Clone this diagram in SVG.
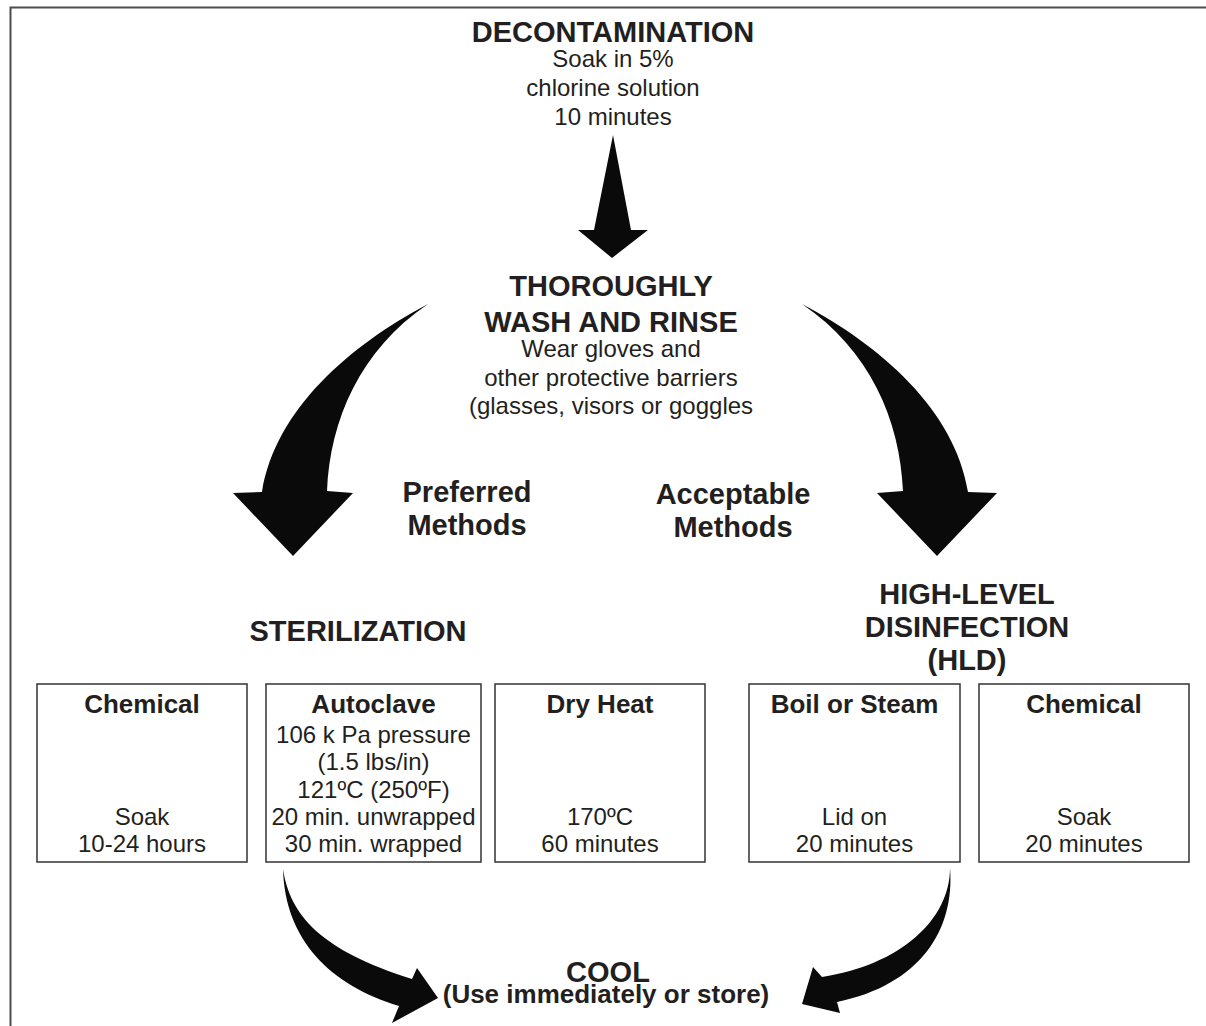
<svg xmlns="http://www.w3.org/2000/svg" width="1206" height="1026" viewBox="0 0 1206 1026">
<style>
text{font-family:"Liberation Sans",Arial,Helvetica,sans-serif;fill:#231f20;text-anchor:middle}
.h{font-weight:bold;font-size:29px}
.t{font-weight:bold;font-size:26px}
.b{font-size:24px}
.box{fill:#fff;stroke:#333;stroke-width:1.5}
.arr{fill:#0a0a0a}
</style>
<rect width="1206" height="1026" fill="#fff"/>
<path d="M10.5 1026 V7.5 H1206" fill="none" stroke="#4d4d4d" stroke-width="2"/>

<g id="decontamination">
<text class="h" x="613" y="42">DECONTAMINATION</text>
<text class="b" x="613" y="67">Soak in 5%</text>
<text class="b" x="613" y="96">chlorine solution</text>
<text class="b" x="613" y="125">10 minutes</text>
</g>

<g id="wash">
<text class="h" x="611" y="296">THOROUGHLY</text>
<text class="h" x="611" y="332">WASH AND RINSE</text>
<text class="b" x="611" y="357">Wear gloves and</text>
<text class="b" x="611" y="386">other protective barriers</text>
<text class="b" x="611" y="414">(glasses, visors or goggles</text>
</g>

<g id="preferred">
<text class="h" x="467" y="502">Preferred</text>
<text class="h" x="467" y="535">Methods</text>
</g>
<g id="acceptable">
<text class="h" x="733" y="504">Acceptable</text>
<text class="h" x="733" y="537">Methods</text>
</g>

<g id="sterilization">
<text class="h" x="358" y="641">STERILIZATION</text>
</g>
<g id="hld">
<text class="h" x="967" y="604">HIGH-LEVEL</text>
<text class="h" x="967" y="637">DISINFECTION</text>
<text class="h" x="967" y="670">(HLD)</text>
</g>

<g id="chemical-sterilization">
<rect class="box" x="37" y="684" width="210" height="178"/>
<text class="t" x="142" y="713">Chemical</text>
<text class="b" x="142" y="825">Soak</text>
<text class="b" x="142" y="852">10-24 hours</text>
</g>
<g id="autoclave">
<rect class="box" x="266" y="684" width="215" height="178"/>
<text class="t" x="373.5" y="713">Autoclave</text>
<text class="b" x="373.5" y="743">106 k Pa pressure</text>
<text class="b" x="373.5" y="770">(1.5 lbs/in)</text>
<text class="b" x="373.5" y="798">121ºC (250ºF)</text>
<text class="b" x="373.5" y="825">20 min. unwrapped</text>
<text class="b" x="373.5" y="852">30 min. wrapped</text>
</g>
<g id="dry-heat">
<rect class="box" x="495" y="684" width="210" height="178"/>
<text class="t" x="600" y="713">Dry Heat</text>
<text class="b" x="600" y="825">170ºC</text>
<text class="b" x="600" y="852">60 minutes</text>
</g>
<g id="boil-steam">
<rect class="box" x="749" y="684" width="211" height="178"/>
<text class="t" x="854.5" y="713">Boil or Steam</text>
<text class="b" x="854.5" y="825">Lid on</text>
<text class="b" x="854.5" y="852">20 minutes</text>
</g>
<g id="chemical-hld">
<rect class="box" x="979" y="684" width="210" height="178"/>
<text class="t" x="1084" y="713">Chemical</text>
<text class="b" x="1084" y="825">Soak</text>
<text class="b" x="1084" y="852">20 minutes</text>
</g>

<g id="cool">
<text class="h" x="608" y="982">COOL</text>
<text class="t" x="606" y="1003">(Use immediately or store)</text>
</g>

<g id="connectors">
<path class="arr" d="M613 135 L631 230 L648 230 L612 258 L578 230 L594 230 Z"/>
<path id="curveL" class="arr" d="M428 304 C350 345 275 410 262 492 L233 493 L293 556 L353 493 L327 491 C330 420 360 350 428 304 Z"/>
<path class="arr" transform="matrix(-1 0 0 1 1230 0)" d="M428 304 C350 345 275 410 262 492 L233 493 L293 556 L353 493 L327 491 C330 420 360 350 428 304 Z"/>
<path class="arr" d="M283 869 C290 915 320 950 412 979 L417 968 L438 998 L392 1023 L399 1006 C330 985 285 940 283 869 Z"/>
<path class="arr" d="M950 868 C950 920 900 965 822 977 L813 967 L802 1004 L840 1013 L837 1002 C920 985 955 930 950 868 Z"/>
</g>
</svg>
